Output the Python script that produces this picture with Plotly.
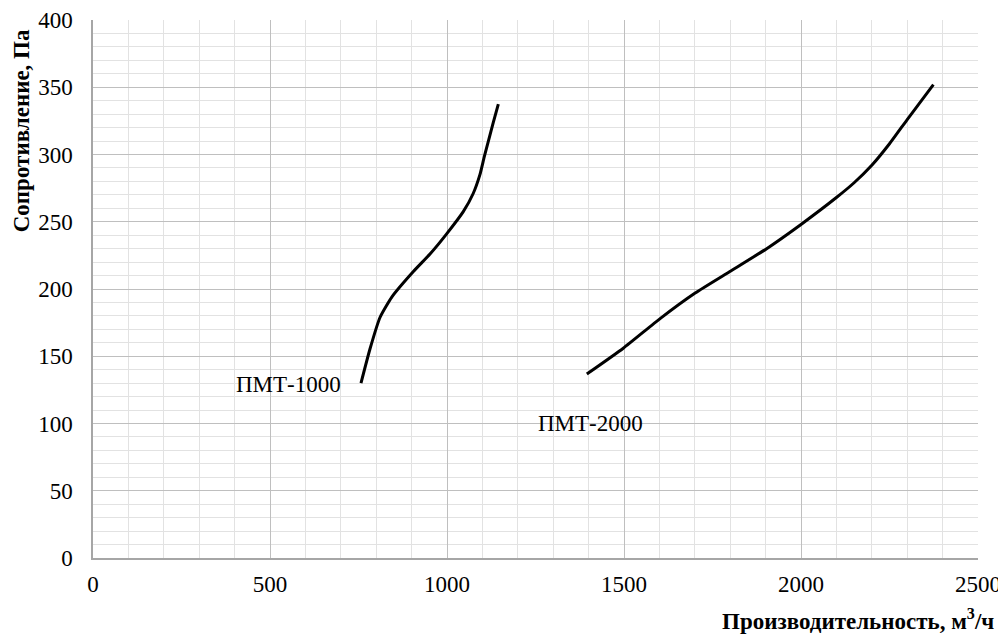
import plotly.graph_objects as go

# ПМТ-1000 curve
x1 = [757, 782, 811, 844, 905, 952, 999, 1046, 1074, 1093, 1105, 1118, 1131, 1145]
y1 = [130, 155, 179, 194, 213, 226, 241, 257.5, 271, 285, 298, 311, 324, 337.5]

# ПМТ-2000 curve
x2 = [1395, 1498, 1602, 1701, 1799, 1903, 2000, 2100, 2150, 2200, 2250, 2300, 2374]
y2 = [136.8, 156, 178, 197, 213, 230, 248, 268, 279, 292, 308, 326, 352]

labels = ["ПМТ-1000", "ПМТ-2000"]
label_x = [552, 1405]
label_y = [129, 100]

x_ticks = [0, 500, 1000, 1500, 2000, 2500]
y_ticks = [0, 50, 100, 150, 200, 250, 300, 350, 400]

FONT = "Liberation Serif, Times New Roman, serif"

fig = go.Figure()
for xs, ys in [(x1, y1), (x2, y2)]:
    fig.add_trace(go.Scatter(x=xs, y=ys, mode="lines",
                             line=dict(color="black", width=3, shape="spline", smoothing=0.5),
                             showlegend=False, hoverinfo="skip"))

for t, lx, ly in zip(labels, label_x, label_y):
    fig.add_annotation(x=lx, y=ly, xref="x", yref="y", text=t, showarrow=False,
                       xanchor="center", yanchor="middle",
                       font=dict(family=FONT, size=23, color="black"))

fig.add_annotation(x=-0.0814, y=0.795, xref="paper", yref="paper",
                   text="<b>Сопротивление, Па</b>", textangle=-90, showarrow=False,
                   xanchor="center", yanchor="middle",
                   font=dict(family=FONT, size=23, color="black"))
fig.add_annotation(x=0.864, y=-0.115, xref="paper", yref="paper",
                   text="<b>Производительность, м<sup>3</sup>/ч</b>", showarrow=False,
                   xanchor="center", yanchor="middle",
                   font=dict(family=FONT, size=23, color="black"))

fig.update_xaxes(range=[0, 2500], tickvals=x_ticks, ticktext=[str(v) for v in x_ticks],
                 showgrid=True, gridcolor="#bfbfbf", gridwidth=1,
                 minor=dict(dtick=100, showgrid=True, gridcolor="#e2e2e2", gridwidth=1),
                 showline=True, linecolor="#a6a6a6", linewidth=1.5,
                 zeroline=False, ticks="", ticklen=0, automargin=False,
                 ticklabelstandoff=5,
                 tickfont=dict(family=FONT, size=23, color="black"))
fig.update_yaxes(range=[0, 400], tickvals=y_ticks, ticktext=[str(v) for v in y_ticks],
                 showgrid=True, gridcolor="#bfbfbf", gridwidth=1,
                 minor=dict(dtick=10, showgrid=True, gridcolor="#e2e2e2", gridwidth=1),
                 showline=True, linecolor="#a6a6a6", linewidth=1.5,
                 zeroline=False, ticks="", ticklen=0, automargin=False,
                 ticklabelstandoff=14,
                 tickfont=dict(family=FONT, size=23, color="black"))

fig.update_layout(width=1006, height=644, plot_bgcolor="white", paper_bgcolor="white",
                  margin=dict(l=85, r=36, t=12, b=94, autoexpand=False))

fig.write_html("out.html")
